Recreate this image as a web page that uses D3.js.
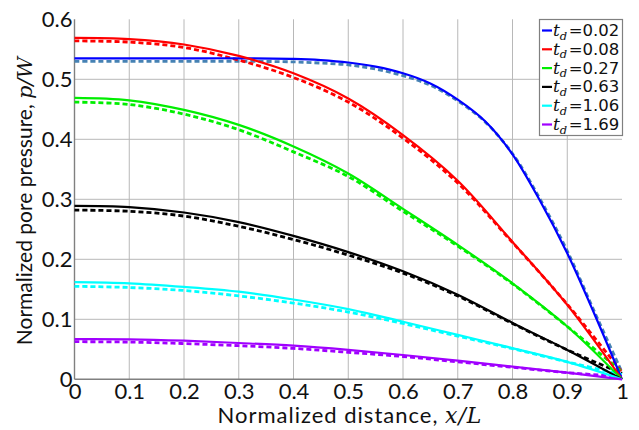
<!DOCTYPE html>
<html>
<head>
<meta charset="utf-8">
<script src="https://cdn.jsdelivr.net/npm/d3@7"></script>
<style>
  html, body { margin: 0; padding: 0; background: #fff; }
  svg { display: block; }
</style>
</head>
<body>
<div id="viz"></div>
<script>
// x positions
const X_COARSE = [0, 0.1, 0.2, 0.3, 0.4, 0.5, 0.6, 0.7, 0.8, 0.9, 1];
const X_BLUE = [0, 0.1, 0.2, 0.3, 0.4, 0.45, 0.5, 0.55, 0.6, 0.65, 0.7, 0.75, 0.8, 0.85, 0.9, 0.95, 1];

// solid = one solution, dashed = the other (values estimated from the plot)
const BLUE_SOLID  = [0.535, 0.535, 0.535, 0.535, 0.534, 0.532, 0.528, 0.521, 0.510, 0.493, 0.466, 0.430, 0.375, 0.298, 0.210, 0.108, 0];
const BLUE_DASHED = [0.530, 0.530, 0.530, 0.530, 0.529, 0.527, 0.524, 0.517, 0.506, 0.490, 0.464, 0.429, 0.376, 0.301, 0.214, 0.112, 0.012];

const RED_SOLID    = [0.569, 0.567, 0.558, 0.539, 0.510, 0.468, 0.407, 0.331, 0.229, 0.124, 0];
const RED_DASHED   = [0.564, 0.562, 0.553, 0.532, 0.503, 0.462, 0.402, 0.327, 0.228, 0.125, 0.012];
const GREEN_SOLID  = [0.469, 0.465, 0.449, 0.424, 0.388, 0.343, 0.284, 0.224, 0.160, 0.088, 0];
const GREEN_DASHED = [0.462, 0.458, 0.442, 0.416, 0.379, 0.338, 0.280, 0.222, 0.159, 0.088, 0.012];
const BLACK_SOLID  = [0.289, 0.287, 0.278, 0.262, 0.239, 0.212, 0.180, 0.141, 0.094, 0.049, 0];
const BLACK_DASHED = [0.282, 0.280, 0.272, 0.255, 0.233, 0.207, 0.177, 0.139, 0.093, 0.049, 0.010];
const CYAN_SOLID   = [0.162, 0.160, 0.154, 0.146, 0.133, 0.117, 0.096, 0.074, 0.052, 0.029, 0];
const CYAN_DASHED  = [0.155, 0.153, 0.148, 0.139, 0.127, 0.112, 0.093, 0.072, 0.051, 0.029, 0.008];
const PURPLE_SOLID  = [0.067, 0.0667, 0.0643, 0.0605, 0.056, 0.049, 0.0405, 0.031, 0.021, 0.011, 0];
const PURPLE_DASHED = [0.0627, 0.062, 0.0595, 0.056, 0.0515, 0.045, 0.038, 0.029, 0.020, 0.011, 0.005];

const TD_LABELS = ["0.02", "0.08", "0.27", "0.63", "1.06", "1.69"];
const X_TICKS = [0, 0.1, 0.2, 0.3, 0.4, 0.5, 0.6, 0.7, 0.8, 0.9, 1];
const Y_TICKS = [0, 0.1, 0.2, 0.3, 0.4, 0.5, 0.6];

const SERIES = [
  { label: TD_LABELS[0], xs: X_BLUE,   solid: BLUE_SOLID,   dashed: BLUE_DASHED,   color: "#0000ff", dashColor: "#4682b4" },
  { label: TD_LABELS[1], xs: X_COARSE, solid: RED_SOLID,    dashed: RED_DASHED,    color: "#ff0000", dashColor: "#ff0000" },
  { label: TD_LABELS[2], xs: X_COARSE, solid: GREEN_SOLID,  dashed: GREEN_DASHED,  color: "#00ee00", dashColor: "#00ee00" },
  { label: TD_LABELS[3], xs: X_COARSE, solid: BLACK_SOLID,  dashed: BLACK_DASHED,  color: "#000000", dashColor: "#000000" },
  { label: TD_LABELS[4], xs: X_COARSE, solid: CYAN_SOLID,   dashed: CYAN_DASHED,   color: "#00ffff", dashColor: "#00ffff" },
  { label: TD_LABELS[5], xs: X_COARSE, solid: PURPLE_SOLID, dashed: PURPLE_DASHED, color: "#a000ff", dashColor: "#a000ff" }
];

const W = 639, H = 430;
const PLOT = { left: 74.5, right: 622, top: 19.3, bottom: 379.3 };
const SANS = "Lato, 'DejaVu Sans', sans-serif";
const MATH = "'DejaVu Serif', 'Liberation Serif', serif";

const svg = d3.select("#viz").append("svg").attr("width", W).attr("height", H);

const x = d3.scaleLinear().domain([0, 1]).range([PLOT.left, PLOT.right]);
const y = d3.scaleLinear().domain([0, 0.6]).range([PLOT.bottom, PLOT.top]);

// grid
const grid = svg.append("g").attr("stroke", "#b8b8b8").attr("stroke-width", 1);
X_TICKS.filter(t => t > 0 && t < 1).forEach(t => {
  grid.append("line").attr("x1", x(t)).attr("x2", x(t)).attr("y1", y(0.6)).attr("y2", y(0));
});
Y_TICKS.filter(t => t > 0 && t < 0.6).forEach(t => {
  grid.append("line").attr("x1", x(0)).attr("x2", x(1)).attr("y1", y(t)).attr("y2", y(t));
});

// tick labels via d3 axes, no tick marks
const xAxis = svg.append("g")
  .attr("transform", `translate(0,${PLOT.bottom})`)
  .call(d3.axisBottom(x).tickValues(X_TICKS).tickFormat(d3.format("")).tickSize(0).tickPadding(4));
const yAxis = svg.append("g")
  .attr("transform", `translate(${PLOT.left},0)`)
  .call(d3.axisLeft(y).tickValues(Y_TICKS).tickFormat(d3.format("")).tickSize(0).tickPadding(2));
[xAxis, yAxis].forEach(a => {
  a.select(".domain").remove();
  a.selectAll("text").attr("font-family", SANS).attr("font-size", 22).attr("fill", "#111");
});

// axis spines (left + bottom)
svg.append("line").attr("x1", x(0)).attr("x2", x(0)).attr("y1", y(0.6)).attr("y2", y(0))
  .attr("stroke", "#808080").attr("stroke-width", 1.4);
svg.append("line").attr("x1", x(0)).attr("x2", x(1)).attr("y1", y(0)).attr("y2", y(0))
  .attr("stroke", "#808080").attr("stroke-width", 1.4);

// curves
const line = d3.line().curve(d3.curveCatmullRom.alpha(0.5));
const curves = svg.append("g").attr("fill", "none");
SERIES.forEach(s => {
  curves.append("path")
    .attr("d", line(s.xs.map((v, i) => [x(v), y(s.dashed[i])])))
    .attr("stroke", s.dashColor).attr("stroke-width", 2.8).attr("stroke-dasharray", "5,3");
});
SERIES.forEach(s => {
  curves.append("path")
    .attr("d", line(s.xs.map((v, i) => [x(v), y(s.solid[i])])))
    .attr("stroke", s.color).attr("stroke-width", 2.2);
});

// axis titles
const xTitle = svg.append("text").attr("x", 350).attr("y", 423)
  .attr("text-anchor", "middle").attr("font-family", SANS).attr("font-size", 22)
  .attr("letter-spacing", 1).attr("fill", "#111");
xTitle.append("tspan").text("Normalized distance, ");
xTitle.append("tspan").attr("font-family", MATH).attr("font-style", "italic").text("x/L");

const yTitle = svg.append("text").attr("transform", "translate(32,201) rotate(-90)")
  .attr("text-anchor", "middle").attr("font-family", SANS).attr("font-size", 21).attr("fill", "#111");
yTitle.append("tspan").text("Normalized pore pressure, ");
yTitle.append("tspan").attr("font-family", MATH).attr("font-style", "italic").text("p/W");

// legend
const LEG = { x: 539.5, y: 19.5, w: 83, h: 116, row: 18.8 };
const legend = svg.append("g");
legend.append("rect").attr("x", LEG.x).attr("y", LEG.y).attr("width", LEG.w).attr("height", LEG.h)
  .attr("fill", "#fff").attr("stroke", "#808080").attr("stroke-width", 1.2);
SERIES.forEach((s, i) => {
  const cy = LEG.y + 11 + i * LEG.row;
  legend.append("line").attr("x1", LEG.x + 2.5).attr("x2", LEG.x + 12.5).attr("y1", cy).attr("y2", cy)
    .attr("stroke", s.color).attr("stroke-width", 2.2);
  const t = legend.append("text").attr("x", LEG.x + 13.5).attr("y", cy + 5.5)
    .attr("font-size", 17).attr("fill", "#111");
  t.append("tspan").attr("font-family", MATH).attr("font-style", "italic").text("t");
  t.append("tspan").attr("font-family", MATH).attr("font-style", "italic").attr("font-size", 11.5)
    .attr("dy", 3.5).text("d");
  t.append("tspan").attr("font-family", "'DejaVu Sans', sans-serif").attr("font-size", 16.5)
    .attr("dy", -3.5).attr("dx", 1.5).text("=" + s.label);
});
</script>
</body>
</html>
